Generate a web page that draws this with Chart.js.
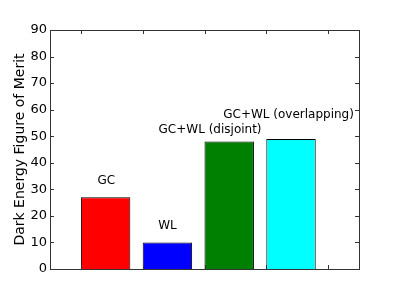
<!DOCTYPE html>
<html>
<head>
<meta charset="utf-8">
<script src="https://cdn.jsdelivr.net/npm/chart.js@4"></script>
<style>
  html, body { margin: 0; padding: 0; background: #fff; }
  #wrap { width: 399px; height: 299px; }
</style>
</head>
<body>
<div id="wrap"><canvas id="myChart" width="399" height="299"></canvas></div>
<script>
const categories = ['GC', 'WL', 'GC+WL (disjoint)', 'GC+WL (overlapping)'];
const barLeft = [0, 1, 2, 3];          // bar left edges (x units)
const values = [27, 10, 48, 49];
const barColors = ['#ff0000', '#0000ff', '#008000', '#00ffff'];
const yTicks = [0, 10, 20, 30, 40, 50, 60, 70, 80, 90];
const xTicks = [0, 1, 2, 3, 4];
// where each text label sits, in data units (centre x, baseline y)
const labelX = [0.41, 1.40, 2.09, 3.36];
const labelY = [32, 15, 51.2, 56.8];

const font = "'DejaVu Sans', sans-serif";

// matplotlib style frame with inward ticks + bar labels
const framePlugin = {
    id: 'frame',
    afterDatasetsDraw(chart) {
        const { ctx, chartArea: a, scales } = chart;
        ctx.save();
        ctx.strokeStyle = '#333';
        ctx.lineWidth = 1;
        ctx.beginPath();
        yTicks.forEach(t => {
            const y = Math.round(scales.y.getPixelForValue(t)) + 0.5;
            ctx.moveTo(a.left, y); ctx.lineTo(a.left + 4, y);
            ctx.moveTo(a.right, y); ctx.lineTo(a.right - 4, y);
        });
        xTicks.forEach(t => {
            const x = Math.round(scales.x.getPixelForValue(t)) + 0.5;
            ctx.moveTo(x, a.top); ctx.lineTo(x, a.top + 4);
            ctx.moveTo(x, a.bottom); ctx.lineTo(x, a.bottom - 4);
        });
        ctx.stroke();
        ctx.strokeRect(Math.round(a.left) + 0.5, Math.round(a.top) + 0.5,
            Math.round(a.right - a.left), Math.round(a.bottom - a.top));

        ctx.fillStyle = '#000';
        ctx.font = '12px ' + font;
        ctx.textAlign = 'center';
        ctx.textBaseline = 'alphabetic';
        categories.forEach((c, i) => {
            ctx.fillText(c, scales.x.getPixelForValue(labelX[i]), scales.y.getPixelForValue(labelY[i]));
        });
        ctx.restore();
    }
};

const chartSettings = {
    type: 'bar',
    data: {
        datasets: [{
            data: values.map((v, i) => ({ x: barLeft[i] + 0.4, y: v })),
            backgroundColor: barColors,
            borderColor: '#000',
            borderWidth: 1,
            categoryPercentage: 1,
            barPercentage: 0.8
        }]
    },
    options: {
        responsive: false,
        animation: false,
        layout: { padding: { left: 0, right: 40, top: 30, bottom: 30 } },
        plugins: { legend: { display: false }, tooltip: { enabled: false } },
        scales: {
            x: {
                type: 'linear',
                min: -0.5,
                max: 4.5,
                offset: false,
                display: false
            },
            y: {
                min: 0,
                max: 90,
                afterFit(scale) { scale.width = 50; },
                afterBuildTicks(scale) { scale.ticks = yTicks.map(v => ({ value: v })); },
                title: {
                    display: true,
                    text: 'Dark Energy Figure of Merit',
                    color: '#000',
                    font: { size: 14, family: font },
                    padding: { top: 12, bottom: 0 }
                },
                ticks: {
                    color: '#000',
                    font: { size: 13, family: font },
                    padding: 3
                },
                grid: { display: false, drawTicks: false },
                border: { display: false }
            }
        }
    },
    plugins: [framePlugin]
};

window.onload = function () {
    const ctx = document.getElementById('myChart').getContext('2d');
    new Chart(ctx, chartSettings);
};
</script>
</body>
</html>
